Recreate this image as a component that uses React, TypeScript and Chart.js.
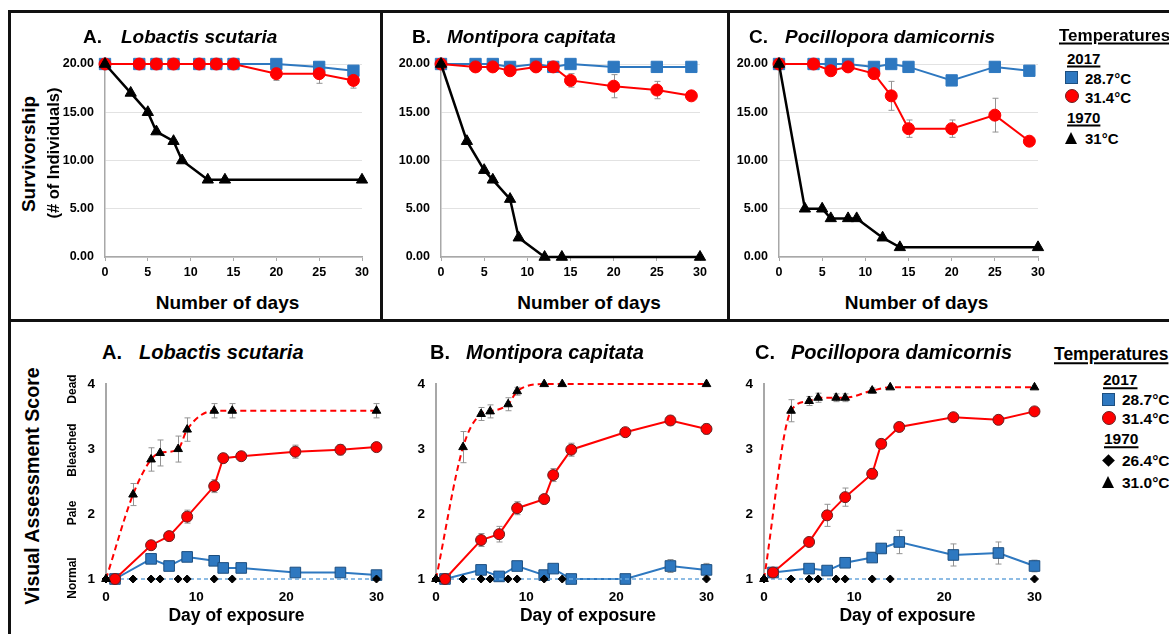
import React, { useEffect, useRef } from 'react';
import { Chart, registerables } from 'chart.js';
Chart.register(...registerables);

const FONT = '"Liberation Sans", Arial, Helvetica, sans-serif';

// ---------- DATA: survivorship (top row) ----------
const survDaysCtl = [0, 4, 6, 8, 11, 13, 15, 20, 25, 29];
const survDays1970 = [0, 3, 5, 6, 8, 9, 12, 14, 30];
const survTickValues = [0, 5, 10, 15, 20];
const survTickLabels = ['0.00', '5.00', '10.00', '15.00', '20.00'];
const survXTicks = [0, 5, 10, 15, 20, 25, 30];

const lsSurv287 = [20, 20, 20, 20, 20, 20, 20, 20, 19.7, 19.3];
const lsSurv314 = [20, 20, 20, 20, 20, 20, 20, 19, 19, 18.3];
const lsSurv314Err = [0, 0, 0, 0, 0, 0, 0, 0.7, 1, 0.8];
const lsSurv31 = [20, 17, 15, 13, 12, 10, 8, 8, 8];

const mcSurv287 = [20, 20, 20, 19.7, 20, 19.7, 20, 19.7, 19.7, 19.7];
const mcSurv314 = [20, 19.7, 19.7, 19.3, 19.7, 19.7, 18.3, 17.7, 17.3, 16.7];
const mcSurv314Err = [0, 0, 0, 0, 0, 0, 0.7, 1.2, 0.9, 0];
const mcSurv31 = [20, 12, 9, 8, 6, 2, 0, 0, 0];

const pdSurv287 = [20, 20, 20, 20, 19.7, 20, 19.7, 18.3, 19.7, 19.3];
const pdSurv287Err = [0, 0, 0, 0, 0, 0, 0, 0.4, 0, 0];
const pdSurv314 = [20, 20, 19.3, 19.7, 19, 16.7, 13.3, 13.3, 14.7, 12];
const pdSurv314Err = [0, 0, 0.5, 0, 0, 1.5, 0.9, 0.9, 1.75, 0.4];
const pdSurv31 = [20, 5, 5, 4, 4, 4, 2, 1, 1];

// ---------- DATA: visual assessment (bottom row) ----------
const vaDaysCtl = [1, 5, 7, 9, 12, 13, 15, 21, 26, 30];
const vaDays1970 = [0, 3, 5, 6, 8, 9, 12, 14, 30];
const vaYTicks = [1, 2, 3, 4];
const vaXTicks = [0, 10, 20, 30];
const vaCategoryLabels = ['Dead', 'Bleached', 'Pale', 'Normal'];
const vaCategoryValues = [3.89, 2.96, 2.0, 1.02];

const lsVa287 = [1, 1.31, 1.2, 1.34, 1.28, 1.17, 1.17, 1.1, 1.1, 1.06];
const lsVa287Err = [0, 0.05, 0.05, 0.06, 0.05, 0.05, 0.04, 0.03, 0.04, 0.03];
const lsVa314 = [1, 1.52, 1.66, 1.96, 2.43, 2.86, 2.89, 2.96, 2.99, 3.03];
const lsVa314Err = [0, 0.06, 0.07, 0.1, 0.1, 0.07, 0.06, 0.1, 0.08, 0.05];
const lsVa310 = [1, 2.3, 2.84, 2.94, 3.0, 3.3, 3.59, 3.59, 3.59];
const lsVa310Err = [0, 0.17, 0.18, 0.2, 0.2, 0.18, 0.11, 0.11, 0.11];
const lsVa264 = [1, 1, 1, 1, 1, 1, 1, 1, 1];

const mcVa287 = [1, 1.14, 1.04, 1.2, 1.06, 1.16, 1, 1, 1.2, 1.14];
const mcVa287Err = [0, 0.04, 0.03, 0.06, 0.04, 0.05, 0, 0, 0.1, 0.1];
const mcVa314 = [1, 1.6, 1.69, 2.09, 2.23, 2.6, 2.99, 3.26, 3.44, 3.31];
const mcVa314Err = [0, 0.1, 0.12, 0.1, 0.05, 0.1, 0.1, 0.05, 0.07, 0.08];
const mcVa310 = [1, 3.03, 3.54, 3.58, 3.69, 3.89, 4, 4, 4];
const mcVa310Err = [0, 0.24, 0.1, 0.1, 0.1, 0.06, 0, 0, 0];
const mcVa264 = [1, 1, 1, 1, 1, 1, 1, 1, 1];

const pdVa287 = [1.1, 1.16, 1.13, 1.25, 1.33, 1.47, 1.57, 1.37, 1.4, 1.2];
const pdVa287Err = [0, 0.04, 0.03, 0.05, 0.05, 0.07, 0.18, 0.17, 0.17, 0.09];
const pdVa314 = [1.1, 1.57, 1.98, 2.26, 2.62, 3.08, 3.34, 3.49, 3.45, 3.58];
const pdVa314Err = [0, 0.07, 0.17, 0.14, 0.08, 0.07, 0.07, 0.06, 0.07, 0.06];
const pdVa310 = [1, 3.59, 3.74, 3.79, 3.79, 3.79, 3.9, 3.95, 3.95];
const pdVa310Err = [0, 0.17, 0.07, 0.07, 0.06, 0.06, 0.04, 0, 0];
const pdVa264 = [1, 1, 1, 1, 1, 1, 1, 1, 1];

// ---------- styles ----------
const BLUE = '#2E78C0';
const BLUE_DARK = '#1d4f80';
const RED = '#FF0000';
const LIGHT_BLUE = '#6aa6dc';

const errorBarPlugin = {
  id: 'errorBars',
  beforeDatasetsDraw(chart: any) {
    const { ctx, scales } = chart;
    const xs = scales.x;
    const ys = scales.y;
    chart.data.datasets.forEach((ds: any) => {
      if (!ds.errors) return;
      ctx.save();
      ctx.strokeStyle = '#939393';
      ctx.lineWidth = 1;
      ds.data.forEach((p: any, j: number) => {
        const e = ds.errors[j];
        if (!e) return;
        const x = Math.round(xs.getPixelForValue(p.x)) + 0.5;
        const yTop = ys.getPixelForValue(p.y + e);
        const yBot = ys.getPixelForValue(p.y - e);
        const cap = 3;
        ctx.beginPath();
        ctx.moveTo(x, yTop);
        ctx.lineTo(x, yBot);
        ctx.moveTo(x - cap, yTop);
        ctx.lineTo(x + cap, yTop);
        ctx.moveTo(x - cap, yBot);
        ctx.lineTo(x + cap, yBot);
        ctx.stroke();
      });
      ctx.restore();
    });
  },
};

function pts(days: number[], vals: number[]) {
  return days.map((d, i) => ({ x: d, y: vals[i] }));
}

function survSets(v287: number[], v314: number[], v31: number[], e287?: number[], e314?: number[]) {
  return [
    {
      data: pts(survDays1970, v31), order: 0, borderColor: '#000', borderWidth: 2.5,
      pointStyle: 'triangle', pointRadius: 6.5, pointBackgroundColor: '#000', pointBorderColor: '#000', pointBorderWidth: 1,
      clip: false,
    },
    {
      data: pts(survDaysCtl, v314), order: 1, borderColor: RED, borderWidth: 2,
      pointStyle: 'circle', pointRadius: 6, pointBackgroundColor: RED, pointBorderColor: RED, pointBorderWidth: 1,
      errors: e314, clip: false,
    },
    {
      data: pts(survDaysCtl, v287), order: 2, borderColor: BLUE, borderWidth: 2,
      pointStyle: 'rect', pointRadius: 8, pointBackgroundColor: BLUE, pointBorderColor: BLUE, pointBorderWidth: 1,
      errors: e287, clip: false,
    },
  ];
}

function vaSets(v287: number[], e287: number[], v314: number[], e314: number[], v310: number[], e310: number[], v264: number[]) {
  return [
    {
      data: pts(vaDays1970, v310), order: 0, borderColor: RED, borderWidth: 2, borderDash: [6, 4],
      cubicInterpolationMode: 'monotone',
      pointStyle: 'triangle', pointRadius: 5, pointBackgroundColor: '#000', pointBorderColor: '#000', pointBorderWidth: 1,
      errors: e310, clip: false,
    },
    {
      data: pts(vaDaysCtl, v314), order: 1, borderColor: RED, borderWidth: 2,
      pointStyle: 'circle', pointRadius: 5.5, pointBackgroundColor: RED, pointBorderColor: '#6b2020', pointBorderWidth: 1,
      errors: e314, clip: false,
    },
    {
      data: pts(vaDays1970, v264), order: 2, borderColor: LIGHT_BLUE, borderWidth: 1.5, borderDash: [4, 3],
      pointStyle: 'rectRot', pointRadius: 4, pointBackgroundColor: '#000', pointBorderColor: '#000', pointBorderWidth: 1,
      clip: false,
    },
    {
      data: pts(vaDaysCtl, v287), order: 3, borderColor: BLUE, borderWidth: 2,
      pointStyle: 'rect', pointRadius: 7.5, pointBackgroundColor: BLUE, pointBorderColor: BLUE_DARK, pointBorderWidth: 1,
      errors: e287, clip: false,
    },
  ];
}

type Rect = { x: number; y: number; w: number; h: number };
type Area = { l: number; t: number; r: number; b: number };

function buildConfig(kind: 'surv' | 'va', canvas: Rect, area: Area, datasets: any[]) {
  const yW = area.l - canvas.x;
  const xH = canvas.y + canvas.h - area.b;
  const surv = kind === 'surv';
  const yTicks = surv ? survTickValues : vaYTicks;
  const xTicks = surv ? survXTicks : vaXTicks;
  return {
    type: 'line',
    data: { datasets },
    options: {
      animation: false,
      responsive: false,
      maintainAspectRatio: false,
      events: [],
      layout: { padding: { left: 0, top: area.t - canvas.y, right: canvas.x + canvas.w - area.r, bottom: 0 } },
      plugins: { legend: { display: false }, tooltip: { enabled: false }, title: { display: false } },
      scales: {
        x: {
          type: 'linear',
          min: 0,
          max: 30,
          afterFit: (s: any) => { s.height = xH; },
          afterBuildTicks: (s: any) => { s.ticks = xTicks.map((v) => ({ value: v })); },
          ticks: {
            color: '#000',
            padding: surv ? 4 : 10,
            maxRotation: 0,
            font: { family: FONT, size: surv ? 12.5 : 13.5, weight: 'bold' },
          },
          grid: surv
            ? { display: true, drawOnChartArea: false, drawTicks: true, tickLength: 4, color: '#a8a8a8' }
            : { display: false, drawTicks: false },
          border: surv ? { display: true, color: '#a8a8a8', width: 1.5 } : { display: false },
        },
        y: {
          type: 'linear',
          min: surv ? 0 : 1,
          max: surv ? 20 : 4,
          afterFit: (s: any) => { s.width = yW; },
          afterBuildTicks: (s: any) => { s.ticks = yTicks.map((v) => ({ value: v })); },
          ticks: {
            color: '#000',
            padding: 11,
            font: { family: FONT, size: surv ? 12.5 : 13.5, weight: 'bold' },
            callback: (v: any, i: number) => (surv ? survTickLabels[i] : String(vaYTicks[i])),
          },
          grid: surv ? { display: true, drawTicks: false, color: '#e2e2e2', lineWidth: 1 } : { display: false, drawTicks: false },
          border: { display: true, color: '#a8a8a8', width: surv ? 1.5 : 2 },
        },
      },
    },
    plugins: [errorBarPlugin],
  };
}

function ChartCanvas({ kind, canvas, area, datasets }: { kind: 'surv' | 'va'; canvas: Rect; area: Area; datasets: any[] }) {
  const ref = useRef<HTMLCanvasElement | null>(null);
  useEffect(() => {
    const chart = new Chart(ref.current as HTMLCanvasElement, buildConfig(kind, canvas, area, datasets) as any);
    return () => chart.destroy();
  }, []);
  return (
    <canvas
      ref={ref}
      width={canvas.w}
      height={canvas.h}
      style={{ position: 'absolute', left: canvas.x, top: canvas.y, width: canvas.w, height: canvas.h }}
    />
  );
}

// text helpers
function TextAt({ x, y, size, bold = true, italic = false, align = 'left', underline = false, children }: any) {
  const tx = align === 'center' ? '-50%' : '0';
  return (
    <div
      style={{
        position: 'absolute', left: x, top: y, transform: `translate(${tx}, -50%)`,
        fontFamily: FONT, fontSize: size, fontWeight: bold ? 'bold' : 'normal', fontStyle: italic ? 'italic' : 'normal',
        lineHeight: 1, whiteSpace: 'nowrap', color: '#000',
        textDecoration: underline ? 'underline' : 'none', textDecorationThickness: underline ? '2px' : undefined,
        textUnderlineOffset: underline ? '2px' : undefined,
      }}
    >
      {children}
    </div>
  );
}

function RotText({ x, y, size, bold = true, children }: any) {
  return (
    <div
      style={{
        position: 'absolute', left: x, top: y, transform: 'translate(-50%, -50%) rotate(-90deg)',
        fontFamily: FONT, fontSize: size, fontWeight: bold ? 'bold' : 'normal', lineHeight: 1, whiteSpace: 'nowrap', color: '#000',
      }}
    >
      {children}
    </div>
  );
}

function Line({ x, y, w, h }: any) {
  return <div style={{ position: 'absolute', left: x, top: y, width: w, height: h, background: '#111' }} />;
}

function Square({ cx, cy }: any) {
  return <div style={{ position: 'absolute', left: cx - 6.5, top: cy - 6.5, width: 11, height: 11, background: BLUE, border: `1px solid ${BLUE_DARK}` }} />;
}
function Circle({ cx, cy }: any) {
  return <div style={{ position: 'absolute', left: cx - 7, top: cy - 7, width: 12, height: 12, borderRadius: '50%', background: RED, border: '1px solid #6b2020' }} />;
}
function Triangle({ cx, cy }: any) {
  return <div style={{ position: 'absolute', left: cx - 6.5, top: cy - 6, width: 0, height: 0, borderLeft: '6.5px solid transparent', borderRight: '6.5px solid transparent', borderBottom: '12px solid #000' }} />;
}
function Diamond({ cx, cy }: any) {
  return <div style={{ position: 'absolute', left: cx - 4.5, top: cy - 4.5, width: 9, height: 9, background: '#000', transform: 'rotate(45deg)' }} />;
}

const vaY = (v: number) => 579 - (v - 1) * (197 / 3);

export default function App() {
  const topCanvasY = 45;
  const topCanvasH = 240;
  const botCanvasY = 365;
  const botCanvasH = 245;
  return (
    <div style={{ position: 'fixed', left: 0, top: 0, width: 1169, height: 634, background: '#fff', overflow: 'hidden' }}>
      {/* frame lines */}
      <Line x={8} y={10} w={1161} h={2.5} />
      <Line x={8} y={10} w={3} h={624} />
      <Line x={379.5} y={10} w={3} h={310} />
      <Line x={726.5} y={10} w={3} h={310} />
      <Line x={8} y={318.5} w={1161} h={3.5} />

      {/* top charts */}
      <ChartCanvas kind="surv" canvas={{ x: 55, y: topCanvasY, w: 320, h: topCanvasH }} area={{ l: 105, t: 64, r: 362, b: 257 }}
        datasets={survSets(lsSurv287, lsSurv314, lsSurv31, undefined, lsSurv314Err)} />
      <ChartCanvas kind="surv" canvas={{ x: 391, y: topCanvasY, w: 322, h: topCanvasH }} area={{ l: 441, t: 64, r: 700, b: 257 }}
        datasets={survSets(mcSurv287, mcSurv314, mcSurv31, undefined, mcSurv314Err)} />
      <ChartCanvas kind="surv" canvas={{ x: 729, y: topCanvasY, w: 322, h: topCanvasH }} area={{ l: 779, t: 64, r: 1038, b: 257 }}
        datasets={survSets(pdSurv287, pdSurv314, pdSurv31, pdSurv287Err, pdSurv314Err)} />

      {/* bottom charts */}
      <ChartCanvas kind="va" canvas={{ x: 56, y: botCanvasY, w: 338, h: botCanvasH }} area={{ l: 106, t: 382, r: 380, b: 579 }}
        datasets={vaSets(lsVa287, lsVa287Err, lsVa314, lsVa314Err, lsVa310, lsVa310Err, lsVa264)} />
      <ChartCanvas kind="va" canvas={{ x: 386, y: botCanvasY, w: 338, h: botCanvasH }} area={{ l: 436, t: 382, r: 709, b: 579 }}
        datasets={vaSets(mcVa287, mcVa287Err, mcVa314, mcVa314Err, mcVa310, mcVa310Err, mcVa264)} />
      <ChartCanvas kind="va" canvas={{ x: 714, y: botCanvasY, w: 338, h: botCanvasH }} area={{ l: 764, t: 382, r: 1038, b: 579 }}
        datasets={vaSets(pdVa287, pdVa287Err, pdVa314, pdVa314Err, pdVa310, pdVa310Err, pdVa264)} />

      {/* top titles */}
      <TextAt x={83} y={36} size={19}>A.</TextAt>
      <TextAt x={121} y={36} size={19} italic>Lobactis scutaria</TextAt>
      <TextAt x={412} y={36} size={19}>B.</TextAt>
      <TextAt x={447} y={36} size={19} italic>Montipora capitata</TextAt>
      <TextAt x={749} y={36} size={19}>C.</TextAt>
      <TextAt x={785} y={36} size={19} italic>Pocillopora damicornis</TextAt>

      {/* top axis titles */}
      <TextAt x={227.5} y={302} size={19} align="center">Number of days</TextAt>
      <TextAt x={589} y={302} size={19} align="center">Number of days</TextAt>
      <TextAt x={916.5} y={302} size={19} align="center">Number of days</TextAt>
      <RotText x={28} y={154} size={19}>Survivorship</RotText>
      <RotText x={53} y={153} size={16.5}>(# of Individuals)</RotText>

      {/* top legend */}
      <TextAt x={1059} y={35} size={17} underline>Temperatures</TextAt>
      <TextAt x={1067} y={58} size={15} underline>2017</TextAt>
      <Square cx={1071.5} cy={77} />
      <TextAt x={1085} y={78} size={15}>28.7°C</TextAt>
      <Circle cx={1072} cy={96} />
      <TextAt x={1085} y={96.5} size={15}>31.4°C</TextAt>
      <TextAt x={1067} y={117} size={15} underline>1970</TextAt>
      <Triangle cx={1071.5} cy={138} />
      <TextAt x={1085} y={138} size={15}>31°C</TextAt>

      {/* bottom titles */}
      <TextAt x={102} y={352} size={20}>A.</TextAt>
      <TextAt x={139} y={352} size={20} italic>Lobactis scutaria</TextAt>
      <TextAt x={430} y={352} size={20}>B.</TextAt>
      <TextAt x={466} y={352} size={20} italic>Montipora capitata</TextAt>
      <TextAt x={755} y={352} size={20}>C.</TextAt>
      <TextAt x={791} y={352} size={20} italic>Pocillopora damicornis</TextAt>

      {/* bottom axis titles */}
      <TextAt x={236.5} y={616} size={17.5} align="center">Day of exposure</TextAt>
      <TextAt x={588} y={616} size={17.5} align="center">Day of exposure</TextAt>
      <TextAt x={907.5} y={616} size={17.5} align="center">Day of exposure</TextAt>
      <RotText x={33} y={486} size={19.6}>Visual Assessment Score</RotText>
      {vaCategoryLabels.map((lab, i) => (
        <RotText key={lab} x={72} y={vaY(vaCategoryValues[i])} size={12}>{lab}</RotText>
      ))}

      {/* bottom legend */}
      <TextAt x={1054} y={355} size={17.5} underline>Temperatures</TextAt>
      <TextAt x={1103} y={380} size={15.5} underline>2017</TextAt>
      <Square cx={1108.5} cy={399} />
      <TextAt x={1122} y={400} size={15.5}>28.7°C</TextAt>
      <Circle cx={1109} cy={418} />
      <TextAt x={1122} y={418.5} size={15.5}>31.4°C</TextAt>
      <TextAt x={1104} y={439} size={15.5} underline>1970</TextAt>
      <Diamond cx={1108} cy={460} />
      <TextAt x={1122} y={461} size={15.5}>26.4°C</TextAt>
      <Triangle cx={1108} cy={482} />
      <TextAt x={1122} y={483} size={15.5}>31.0°C</TextAt>
    </div>
  );
}
